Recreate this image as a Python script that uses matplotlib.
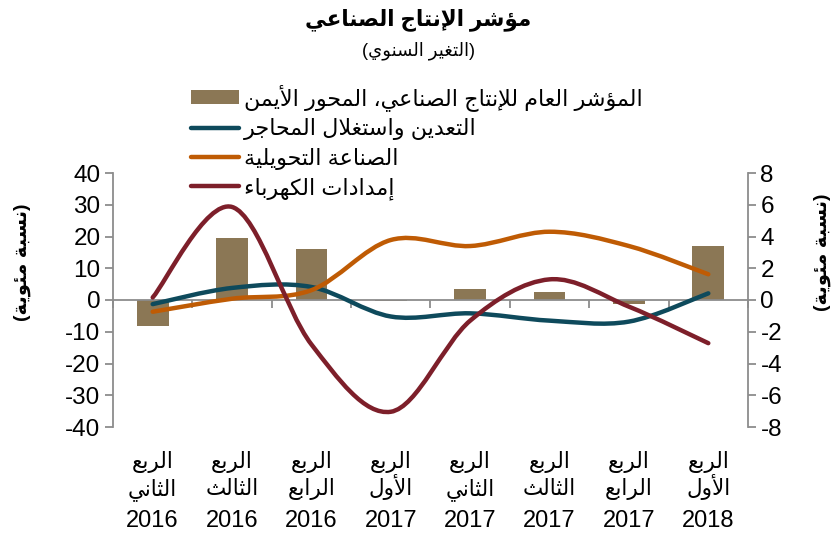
import matplotlib
matplotlib.use("Agg")
import matplotlib.pyplot as plt
import numpy as np
from matplotlib.path import Path
from matplotlib.patches import PathPatch
from matplotlib.lines import Line2D
from matplotlib.patches import Patch

plt.rcParams['font.family'] = ['Liberation Sans', 'DejaVu Sans']
plt.rcParams['axes.unicode_minus'] = False

# ---------------- Arabic shaping helper (presentation forms + RTL order) ----
_FORMS = {}
_four = {0x0626: 0xFE89, 0x0628: 0xFE8F, 0x062A: 0xFE95, 0x062B: 0xFE99, 0x062C: 0xFE9D,
         0x062D: 0xFEA1, 0x062E: 0xFEA5, 0x0633: 0xFEB1, 0x0634: 0xFEB5, 0x0635: 0xFEB9,
         0x0636: 0xFEBD, 0x0637: 0xFEC1, 0x0638: 0xFEC5, 0x0639: 0xFEC9, 0x063A: 0xFECD,
         0x0641: 0xFED1, 0x0642: 0xFED5, 0x0643: 0xFED9, 0x0644: 0xFEDD, 0x0645: 0xFEE1,
         0x0646: 0xFEE5, 0x0647: 0xFEE9, 0x064A: 0xFEF1}
_two = {0x0622: 0xFE81, 0x0623: 0xFE83, 0x0624: 0xFE85, 0x0625: 0xFE87, 0x0627: 0xFE8D,
        0x0629: 0xFE93, 0x062F: 0xFEA9, 0x0630: 0xFEAB, 0x0631: 0xFEAD, 0x0632: 0xFEAF,
        0x0648: 0xFEED, 0x0649: 0xFEEF}
for k, b in _four.items():
    _FORMS[chr(k)] = (chr(b), chr(b + 1), chr(b + 2), chr(b + 3))
for k, b in _two.items():
    _FORMS[chr(k)] = (chr(b), chr(b + 1), None, None)
_FORMS['\u0621'] = ('\uFE80', None, None, None)
_LAMALEF = {'\u0622': '\uFEF5', '\u0623': '\uFEF7', '\u0625': '\uFEF9', '\u0627': '\uFEFB'}


def _dual(c):
    return c in _FORMS and _FORMS[c][2] is not None


def _joins(c):
    return (c in _FORMS and _FORMS[c][1] is not None) or c in ('LA',)


def shape_line(s):
    if not any('\u0600' <= ch <= '\u06FF' for ch in s):
        return s
    toks = []
    i = 0
    while i < len(s):
        if s[i] == '\u0644' and i + 1 < len(s) and s[i + 1] in _LAMALEF:
            toks.append(('LA', s[i + 1]))
            i += 2
        else:
            toks.append((s[i], None))
            i += 1
    out = []
    for j, (c, extra) in enumerate(toks):
        prev = toks[j - 1][0] if j > 0 else None
        nxt = toks[j + 1][0] if j + 1 < len(toks) else None
        jp = prev is not None and _dual(prev) and (c == 'LA' or _joins(c))
        if c == 'LA':
            base = ord(_LAMALEF[extra])
            out.append(chr(base + 1) if jp else chr(base))
            continue
        if c not in _FORMS:
            out.append(c)
            continue
        iso, fin, ini, med = _FORMS[c]
        jn = _dual(c) and nxt is not None and (nxt == 'LA' or _joins(nxt))
        if jp and jn:
            out.append(med)
        elif jp:
            out.append(fin)
        elif jn:
            out.append(ini)
        else:
            out.append(iso)
    vis = ''.join(reversed(out))
    vis = vis.replace('(', '\0').replace(')', '(').replace('\0', ')')
    return vis


def ar(s):
    return '\n'.join(shape_line(l) for l in s.split('\n'))


# ---------------- data ----------------
quarters = ['الربع\nالثاني\n2016', 'الربع\nالثالث\n2016', 'الربع\nالرابع\n2016',
            'الربع\nالأول\n2017', 'الربع\nالثاني\n2017', 'الربع\nالثالث\n2017',
            'الربع\nالرابع\n2017', 'الربع\nالأول\n2018']
general_index = [-1.62, 3.92, 3.2, -0.05, 0.69, 0.48, -0.25, 3.4]      # right axis
mining = [-1.3, 3.8, 4.1, -5.2, -4.2, -6.5, -6.8, 2.1]                  # left axis
manufacturing = [-3.7, 0.4, 3.1, 18.9, 17.0, 21.5, 17.0, 8.1]
electricity = [0.8, 29.3, -14.0, -35.2, -6.5, 6.5, -2.1, -13.6]

names = ['المؤشر العام للإنتاج الصناعي، المحور الأيمن', 'التعدين واستغلال المحاجر',
         'الصناعة التحويلية', 'إمدادات الكهرباء']
title = 'مؤشر الإنتاج الصناعي'
subtitle = '(التغير السنوي)'
ylabel = '(نسبة مئوية)'

c_bar = '#8B7755'
c_min = '#0E4A5C'
c_man = '#BF5B04'
c_ele = '#7D1F2A'
c_ax = '#8C8C8C'


def smooth_path(xs, ys):
    pts = np.column_stack([xs, ys]).astype(float)
    n = len(pts)
    verts = [pts[0]]
    codes = [Path.MOVETO]
    for i in range(n - 1):
        p0 = pts[i - 1] if i > 0 else pts[i]
        p1 = pts[i]
        p2 = pts[i + 1]
        p3 = pts[i + 2] if i + 2 < n else pts[i + 1]
        c1 = p1 + (p2 - p0) / 6.0
        c2 = p2 - (p3 - p1) / 6.0
        verts += [c1, c2, p2]
        codes += [Path.CURVE4] * 3
    return Path(verts, codes)


fig = plt.figure(figsize=(8.37, 5.37), dpi=100)
ax = fig.add_axes([113 / 837, 1 - 427 / 537, (748 - 113) / 837, 254 / 537])
ax2 = ax.twinx()

x = np.arange(len(quarters))
ax2.bar(x, general_index, width=0.4, color=c_bar, zorder=2)
ax2.set_ylim(-8, 8)
ax2.set_yticks(np.arange(-8, 9, 2))

for ys, col in [(mining, c_min), (manufacturing, c_man), (electricity, c_ele)]:
    ax.add_patch(PathPatch(smooth_path(x, ys), facecolor='none', edgecolor=col,
                           lw=3.2, capstyle='round', zorder=3))

ax.set_zorder(ax2.get_zorder() + 1)
ax.patch.set_visible(False)

ax.set_xlim(-0.5, len(quarters) - 0.5)
ax.set_ylim(-40, 40)
ax.set_yticks(np.arange(-40, 41, 10))

for a in (ax, ax2):
    a.spines['top'].set_visible(False)
    for s in ('left', 'right', 'bottom'):
        a.spines[s].set_color(c_ax)
        a.spines[s].set_linewidth(1.3)
ax.spines['right'].set_visible(False)
ax2.spines['left'].set_visible(False)
ax2.spines['bottom'].set_visible(False)
ax.spines['bottom'].set_position(('data', 0))

ax.tick_params(axis='y', direction='out', length=6, width=1.3, color=c_ax,
               labelsize=17.5, pad=3)
ax2.tick_params(axis='y', direction='out', length=6, width=1.3, color=c_ax,
                labelsize=17.5, pad=3)
ax.set_xticks(x)
ax.set_xticklabels([''] * len(x))
ax.set_xticks(np.arange(-0.5, len(quarters), 1.0), minor=True)
ax.tick_params(axis='x', which='major', length=0)
ax.tick_params(axis='x', which='minor', length=6, width=1.3, color=c_ax, direction='out')

# category labels: three rows per category, fixed baselines
trans = ax.get_xaxis_transform()
row_y = [(427 - 468) / 254, (427 - 495) / 254, (427 - 527) / 254]
row_fs = [15.5, 15.5, 17]
for xi, q in zip(x, quarters):
    for li, line in enumerate(q.split('\n')):
        ax.text(xi, row_y[li], ar(line), transform=trans, ha='center', va='baseline',
                fontsize=row_fs[li], clip_on=False)

fig.text(0.5, 1 - 20 / 537, ar(title), ha='center', va='center', fontsize=15.5,
         fontweight='bold')
fig.text(0.5, 1 - 51 / 537, ar(subtitle), ha='center', va='center', fontsize=13)

fig.text(22 / 837, 1 - 262 / 537, ar(ylabel), rotation=90, ha='center', va='center',
         fontsize=14, fontweight='bold')
fig.text(822 / 837, 1 - 252 / 537, ar(ylabel), rotation=90, ha='center', va='center',
         fontsize=14, fontweight='bold')

handles = [Patch(facecolor=c_bar, edgecolor='none'),
           Line2D([], [], color=c_min, lw=3.2, solid_capstyle='round'),
           Line2D([], [], color=c_man, lw=3.2, solid_capstyle='round'),
           Line2D([], [], color=c_ele, lw=3.2, solid_capstyle='round')]
fig.legend(handles, [ar(n) for n in names], loc='upper left',
           bbox_to_anchor=(191 / 837, 1 - 84 / 537), frameon=False, fontsize=16,
           handlelength=2.15, handleheight=0.63, handletextpad=0.25, labelspacing=0.33,
           borderpad=0, borderaxespad=0)

fig.savefig('out.png', dpi=100)
